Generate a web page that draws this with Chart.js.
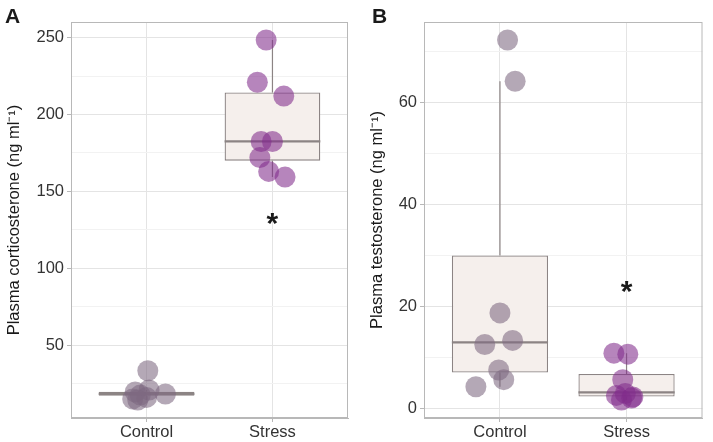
<!DOCTYPE html>
<html>
<head>
<meta charset="utf-8">
<script src="https://cdn.jsdelivr.net/npm/chart.js@4/dist/chart.umd.min.js"></script>
<style>
  body { margin: 0; background: #fff; }
  #wrap { position: relative; width: 713px; height: 442px; }
  canvas { position: absolute; top: 0; }
</style>
</head>
<body>
<div id="wrap">
  <canvas id="panelA" width="360" height="442" style="left:0"></canvas>
  <canvas id="panelB" width="353" height="442" style="left:360px"></canvas>
</div>
<script>
const groups = ['Control', 'Stress'];

// A: plasma corticosterone (ng/ml), x = jittered group position
const cortControlX = [1.01, 0.91, 1.02, 1.15, 0.89, 1.00, 0.95, 0.93];
const cortControl  = [33.3, 19.5, 20.8, 18.2, 15.0, 16.0, 17.5, 14.3];
const cortStressX  = [1.95, 1.88, 2.09, 1.91, 2.00, 1.90, 1.97, 2.10];
const cortStress   = [248.5, 221, 212, 182.5, 182.5, 172, 163, 159.3];
const cortQ1     = [17.0, 170.0];
const cortMedian = [18.3, 182.5];
const cortQ3     = [19.6, 214.3];
const cortLow    = [14.3, 159.3];
const cortHigh   = [20.8, 248.5];
const cortTicks  = [25, 50, 75, 100, 125, 150, 175, 200, 225, 250];
const cortMajor  = [50, 100, 150, 200, 250];
const cortStar   = [null, 132];

// B: plasma testosterone (ng/ml)
const testControlX = [1.06, 1.12, 1.00, 0.88, 1.10, 0.99, 1.03, 0.81];
const testControl  = [72.3, 64.2, 18.7, 12.5, 13.3, 7.5, 5.6, 4.2];
const testStressX  = [1.90, 2.01, 1.97, 1.92, 1.99, 2.04, 1.96, 2.05];
const testStress   = [10.8, 10.6, 5.6, 2.5, 2.9, 2.0, 1.6, 2.2];
const testQ1     = [7.0, 2.3];
const testMedian = [12.9, 3.1];
const testQ3     = [30.0, 6.7];
const testLow    = [4.2, 1.6];
const testHigh   = [64.2, 10.8];
const testTicks  = [0, 10, 20, 30, 40, 50, 60, 70];
const testMajor  = [0, 20, 40, 60];
const testStar   = [null, 23.8];

const controlColor = 'rgba(125,105,130,0.58)';
const stressColor  = 'rgba(130,45,140,0.58)';
const boxLine = '#8c8484';
const boxFill = '#f5efec';
const fontFamily = '"Liberation Sans", Arial, sans-serif';

function toPoints(xs, ys) {
  return ys.map((y, i) => ({ x: xs[i], y: y }));
}

function makePanel(id, p) {
  const all = p.control.concat(p.stress);
  const lo = Math.min(...all), hi = Math.max(...all);
  const pad = (hi - lo) * 0.05;

  const medianData = [], whiskerData = [];
  groups.forEach((g, i) => {
    const c = i + 1;
    medianData.push({ x: c - 0.38, y: p.median[i] }, { x: c + 0.38, y: p.median[i] }, { x: c, y: null });
    whiskerData.push({ x: c, y: p.low[i] }, { x: c, y: p.q1[i] }, { x: c, y: null },
                     { x: c, y: p.q3[i] }, { x: c, y: p.high[i] }, { x: c, y: null });
  });

  const extras = {
    id: 'extras',
    beforeDatasetsDraw(chart) {
      const a = chart.chartArea, ctx = chart.ctx;
      ctx.save();
      ctx.strokeStyle = '#b8b8b8';
      ctx.lineWidth = 1;
      ctx.strokeRect(a.left + 0.5, a.top + 0.5, a.right - a.left - 1, a.bottom - a.top - 1);
      ctx.restore();
    },
    afterDraw(chart) {
      const ctx = chart.ctx;
      ctx.save();
      ctx.fillStyle = '#1a1a1a';
      ctx.font = 'bold 21px ' + fontFamily;
      ctx.textBaseline = 'alphabetic';
      ctx.fillText(p.letter, p.letterX, 23);
      ctx.font = 'bold 30px ' + fontFamily;
      ctx.textAlign = 'center';
      ctx.textBaseline = 'middle';
      p.star.forEach((v, i) => {
        if (v === null) return;
        ctx.fillText('*', chart.scales.x.getPixelForValue(i + 1), chart.scales.y.getPixelForValue(v) + 6);
      });
      ctx.restore();
    }
  };

  new Chart(document.getElementById(id), {
    type: 'scatter',
    data: {
      datasets: [
        { data: toPoints(p.controlX, p.control), backgroundColor: controlColor, borderWidth: 0, pointRadius: 10.5 },
        { data: toPoints(p.stressX, p.stress), backgroundColor: stressColor, borderWidth: 0, pointRadius: 10.5 },
        { data: medianData, showLine: true, borderColor: boxLine, borderWidth: 2.2, pointRadius: 0, spanGaps: false },
        { data: whiskerData, showLine: true, borderColor: boxLine, borderWidth: 1.2, pointRadius: 0, spanGaps: false },
        {
          type: 'bar',
          data: groups.map((g, i) => ({ x: i + 1, y: [p.q1[i], p.q3[i]] })),
          backgroundColor: boxFill,
          borderColor: boxLine,
          borderWidth: 1.3,
          borderSkipped: false,
          categoryPercentage: 1,
          barPercentage: 0.76
        }
      ]
    },
    options: {
      responsive: false,
      animation: false,
      layout: { padding: { top: 22, right: p.padRight, left: 0, bottom: 0 } },
      plugins: { legend: { display: false }, tooltip: { enabled: false } },
      scales: {
        x: {
          type: 'linear',
          min: 0.4,
          max: 2.6,
          offset: false,
          afterBuildTicks: s => { s.ticks = groups.map((g, i) => ({ value: i + 1 })); },
          afterFit: s => { s.height = 24; },
          ticks: {
            callback: v => groups[v - 1],
            color: '#333',
            padding: 1,
            font: { size: 16.5, family: fontFamily }
          },
          grid: { offset: false, color: '#e4e4e4', tickColor: '#b8b8b8', tickLength: 4 },
          border: { color: '#b8b8b8' }
        },
        y: {
          min: lo - pad,
          max: hi + pad,
          afterBuildTicks: s => { s.ticks = p.ticks.map(v => ({ value: v })); },
          afterFit: s => { s.width = p.axisWidth; },
          ticks: {
            callback: v => p.major.includes(v) ? String(v) : '',
            color: '#333',
            padding: 3,
            font: { size: 16.5, family: fontFamily }
          },
          grid: {
            color: c => p.major.includes(c.tick.value) ? '#e4e4e4' : '#f2f2f2',
            tickColor: c => p.major.includes(c.tick.value) ? '#b8b8b8' : 'rgba(0,0,0,0)',
            tickLength: 4
          },
          border: { color: '#b8b8b8' },
          title: {
            display: true,
            text: p.title,
            color: '#1a1a1a',
            padding: { top: p.titlePad, bottom: 0 },
            font: { size: 16.5, family: fontFamily }
          }
        }
      }
    },
    plugins: [extras]
  });
}

makePanel('panelA', {
  letter: 'A', letterX: 5, title: 'Plasma corticosterone (ng ml\u207B\u00B9)', titlePad: 4.5,
  axisWidth: 71, padRight: 12,
  controlX: cortControlX, control: cortControl, stressX: cortStressX, stress: cortStress,
  q1: cortQ1, median: cortMedian, q3: cortQ3, low: cortLow, high: cortHigh,
  ticks: cortTicks, major: cortMajor, star: cortStar
});

makePanel('panelB', {
  letter: 'B', letterX: 12, title: 'Plasma testosterone (ng ml\u207B\u00B9)', titlePad: 8,
  axisWidth: 64, padRight: 2,
  controlX: testControlX, control: testControl, stressX: testStressX, stress: testStress,
  q1: testQ1, median: testMedian, q3: testQ3, low: testLow, high: testHigh,
  ticks: testTicks, major: testMajor, star: testStar
});
</script>
</body>
</html>
